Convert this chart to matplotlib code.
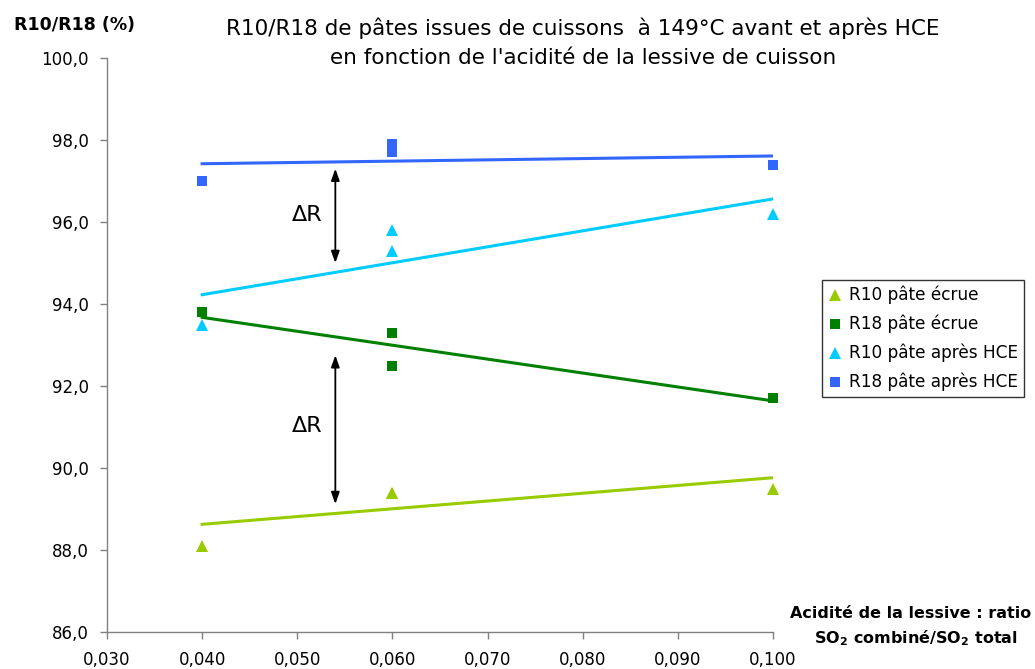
import numpy as np
import matplotlib
matplotlib.use("Agg")
import matplotlib.pyplot as plt
from matplotlib.ticker import FuncFormatter, MultipleLocator

plt.rcParams['font.family'] = ['DejaVu Sans']

# Acidity of the cooking liquor (SO2 combined / SO2 total)
x_r10_ecrue = [0.04, 0.06, 0.06, 0.10]
r10_ecrue = [88.1, 89.4, 89.4, 89.5]

x_r18_ecrue = [0.04, 0.06, 0.06, 0.10]
r18_ecrue = [93.8, 93.3, 92.5, 91.7]

x_r10_hce = [0.04, 0.06, 0.06, 0.10]
r10_hce = [93.5, 95.8, 95.3, 96.2]

x_r18_hce = [0.04, 0.06, 0.06, 0.10]
r18_hce = [97.0, 97.9, 97.7, 97.4]

series = [
    ("R10 pâte écrue", x_r10_ecrue, r10_ecrue, "#99cc00", "^"),
    ("R18 pâte écrue", x_r18_ecrue, r18_ecrue, "#008000", "s"),
    ("R10 pâte après HCE", x_r10_hce, r10_hce, "#00ccff", "^"),
    ("R18 pâte après HCE", x_r18_hce, r18_hce, "#3366ff", "s"),
]

fig = plt.figure(figsize=(10.35, 6.69), dpi=100)
ax = fig.add_axes([107 / 1035, 1 - 632 / 669, (773 - 107) / 1035, (632 - 58) / 669])

handles = []
for label, xs, ys, color, marker in series:
    xs = np.asarray(xs)
    ys = np.asarray(ys)
    # linear trend line over the measured range
    slope, intercept = np.polyfit(xs, ys, 1)
    xl = np.array([xs.min(), xs.max()])
    ax.plot(xl, slope * xl + intercept, color=color, lw=2.2, zorder=2)
    ms = 9 if marker == "^" else 7.5
    h = ax.plot(xs, ys, linestyle="none", marker=marker, color=color,
                markersize=ms, markeredgewidth=0, label=label, zorder=3,
                clip_on=False)[0]
    handles.append(h)

ax.set_xlim(0.030, 0.100)
ax.set_ylim(86.0, 100.0)
ax.xaxis.set_major_locator(MultipleLocator(0.010))
ax.yaxis.set_major_locator(MultipleLocator(2.0))
ax.xaxis.set_major_formatter(FuncFormatter(lambda v, p: f"{v:.3f}".replace(".", ",")))
ax.yaxis.set_major_formatter(FuncFormatter(lambda v, p: f"{v:.1f}".replace(".", ",")))

for side in ("top", "right"):
    ax.spines[side].set_visible(False)
for side in ("left", "bottom"):
    ax.spines[side].set_color("#808080")
    ax.spines[side].set_linewidth(1.0)
ax.tick_params(axis="both", direction="out", length=5, width=1.0, color="#808080",
               labelsize=12, labelcolor="black")
ax.tick_params(axis="y", pad=8)
ax.tick_params(axis="x", pad=9)

# difference arrows between the trend lines
arrow_style = dict(arrowstyle="<|-|>,head_length=0.7,head_width=0.25", color="black",
                   lw=1.3, mutation_scale=10, shrinkA=0, shrinkB=0)
ax.annotate("", xy=(0.054, 97.3), xytext=(0.054, 95.0), arrowprops=arrow_style)
ax.annotate("", xy=(0.054, 92.75), xytext=(0.054, 89.12), arrowprops=arrow_style)
ax.text(0.0510, 96.17, "ΔR", fontsize=16, ha="center", va="center")
ax.text(0.0510, 91.03, "ΔR", fontsize=16, ha="center", va="center")

fig.text(75 / 1035, 1 - 25 / 669, "R10/R18 (%)", fontsize=12.5, fontweight="bold",
         ha="center", va="center")
fig.text(583 / 1035, 1 - 42.5 / 669,
         "R10/R18 de pâtes issues de cuissons  à 149°C avant et après HCE\n"
         "en fonction de l'acidité de la lessive de cuisson",
         fontsize=15.5, ha="center", va="center", linespacing=1.55)
fig.text(1031 / 1035, 1 - 614 / 669, "Acidité de la lessive : ratio",
         fontsize=11.5, fontweight="bold", ha="right", va="center")
fig.text(1018 / 1035, 1 - 638 / 669,
         r"SO$_{\mathbf{2}}$ combiné/SO$_{\mathbf{2}}$ total",
         fontsize=11.5, fontweight="bold", ha="right", va="center")

leg = fig.legend(handles=handles, loc="upper left",
                 bbox_to_anchor=(822 / 1035, 1 - 280 / 669),
                 fontsize=12.2, frameon=True, fancybox=False,
                 handlelength=0.8, handletextpad=0.45, borderpad=0.35,
                 labelspacing=0.62, borderaxespad=0)
leg.get_frame().set_edgecolor("black")
leg.get_frame().set_linewidth(1.0)

fig.savefig("out.png", dpi=100)
